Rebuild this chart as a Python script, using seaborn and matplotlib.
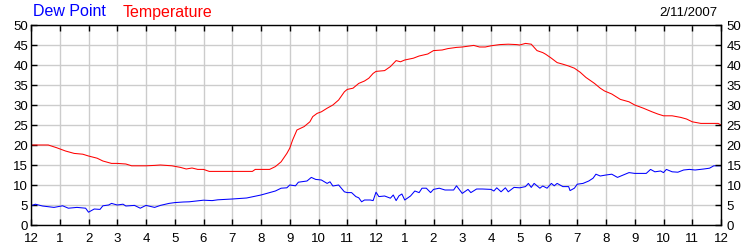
import matplotlib
matplotlib.use("Agg")
import matplotlib.pyplot as plt
import seaborn as sns
import pandas as pd

# ---- data (hours since midnight) ----
temp_hours = [0.0, 0.6, 0.9, 1.2, 1.5, 1.8, 2.0, 2.3, 2.5, 2.8, 3.0, 3.3, 3.5, 4.0,
              4.3, 4.5, 4.9, 5.2, 5.4, 5.6, 5.8, 6.0, 6.2, 6.5, 7.0, 7.5, 7.7, 7.8, 8.0,
              8.3, 8.5, 8.7, 8.9, 9.0, 9.1, 9.25, 9.5, 9.7, 9.8, 9.95, 10.1, 10.3, 10.5,
              10.7, 10.9, 11.0, 11.2, 11.4, 11.6, 11.75, 11.9, 12.0,
              12.3, 12.5, 12.7, 12.85, 13.0, 13.3, 13.5, 13.8, 14.0, 14.3, 14.5, 14.8,
              15.0, 15.4, 15.6, 15.8, 16.0,
              16.3, 16.6, 16.9, 17.0, 17.2, 17.4, 17.6, 17.8, 17.9, 18.1, 18.3, 18.5,
              18.7, 18.9, 19.1, 19.3, 19.6, 19.8, 19.95,
              20.2, 20.5, 20.8, 21.0, 21.3, 21.6, 21.8, 22.0, 22.3, 22.6, 22.8, 23.0,
              23.3, 23.6, 23.9, 24.0]
temperature = [20.0, 20.0, 19.3, 18.5, 17.9, 17.7, 17.25, 16.7, 16.0, 15.4, 15.4, 15.25, 14.8, 14.8,
               14.9, 15.0, 14.8, 14.4, 14.0, 14.25, 13.9, 13.9, 13.4, 13.4, 13.4, 13.4, 13.4, 13.9, 13.9,
               13.9, 14.6, 15.8, 17.9, 19.2, 21.25, 23.75, 24.6, 25.8, 27.1, 27.9, 28.3, 29.2, 30.0,
               31.25, 33.3, 33.9, 34.2, 35.4, 36.0, 36.7, 37.9, 38.4,
               38.6, 39.6, 41.1, 40.8, 41.25, 41.7, 42.25, 42.75, 43.6, 43.75, 44.1, 44.4,
               44.5, 44.9, 44.5, 44.5, 44.8,
               45.1, 45.2, 45.1, 45.0, 45.4, 45.2, 43.6, 43.1, 42.7, 41.7, 40.6, 40.2,
               39.75, 39.2, 38.2, 36.9, 35.4, 34.2, 33.5,
               32.75, 31.4, 30.8, 30.0, 29.2, 28.3, 27.75, 27.3, 27.3, 26.9, 26.5, 25.8,
               25.4, 25.4, 25.4, 25.0]

dew_hours = [0.0, 0.15, 0.4, 0.8, 1.1, 1.3, 1.6, 1.9, 2.0, 2.2, 2.4, 2.5, 2.7, 2.8, 3.0,
             3.2, 3.3, 3.6, 3.8, 4.0,
             4.3, 4.5, 4.8, 5.0, 5.3, 5.5, 6.0, 6.3, 6.5, 7.0, 7.5, 7.8, 8.0,
             8.2, 8.5, 8.7, 8.9, 9.0, 9.2, 9.3, 9.6, 9.75, 9.9, 10.1, 10.3, 10.4, 10.5,
             10.7, 10.9, 11.0, 11.15, 11.3, 11.4, 11.5, 11.6, 11.8, 11.9, 12.0,
             12.1, 12.3, 12.5, 12.6, 12.7, 12.8, 12.9, 13.0, 13.2, 13.35, 13.5, 13.6,
             13.75, 13.9, 14.0, 14.2, 14.4, 14.7, 14.8, 15.0, 15.2, 15.3, 15.5, 15.7, 16.0,
             16.1, 16.2, 16.35, 16.5, 16.6, 16.8, 17.0, 17.2, 17.3, 17.4, 17.5, 17.7,
             17.8, 17.95, 18.1, 18.2, 18.3, 18.5, 18.7, 18.75, 18.9, 19.0, 19.2, 19.4,
             19.55, 19.65, 19.8, 20.0,
             20.2, 20.3, 20.4, 20.6, 20.8, 21.0, 21.3, 21.4, 21.55, 21.7, 21.9, 22.0,
             22.1, 22.3, 22.5, 22.7, 22.9, 23.1, 23.4, 23.6, 23.75, 24.0]
dew_point = [4.8, 5.2, 4.75, 4.4, 4.8, 4.2, 4.4, 4.2, 3.2, 4.0, 3.9, 4.8, 5.0, 5.4, 5.0,
             5.2, 4.75, 4.9, 4.2, 4.9,
             4.4, 4.9, 5.4, 5.6, 5.75, 5.8, 6.2, 6.1, 6.3, 6.5, 6.75, 7.2, 7.5,
             7.9, 8.5, 9.2, 9.3, 10.0, 9.8, 10.7, 11.0, 11.9, 11.4, 11.25, 10.4, 10.8, 9.75,
             10.0, 8.3, 8.1, 8.1, 7.1, 6.8, 5.8, 6.25, 6.25, 6.1, 8.2,
             7.1, 7.25, 6.7, 7.5, 6.1, 7.3, 7.75, 6.25, 7.25, 8.5, 8.1, 9.2,
             9.2, 8.1, 8.9, 9.2, 8.75, 8.75, 9.8, 7.9, 8.9, 8.1, 9.0, 9.0, 8.9,
             8.5, 9.3, 8.3, 9.3, 8.3, 9.4, 9.3, 9.6, 10.4, 9.4, 10.4, 9.2,
             9.75, 9.2, 10.4, 9.8, 10.4, 9.6, 9.6, 8.6, 9.2, 10.2, 10.4, 11.0,
             11.7, 12.7, 12.25, 12.5,
             12.7, 12.3, 11.9, 12.5, 13.1, 12.9, 12.9, 12.9, 13.9, 13.3, 13.5, 13.1,
             13.9, 13.3, 13.2, 13.75, 13.9, 13.75, 14.0, 14.2, 14.8, 14.8]

tick_hours = list(range(0, 25))
tick_labels = ["12", "1", "2", "3", "4", "5", "6", "7", "8", "9", "10", "11",
               "12", "1", "2", "3", "4", "5", "6", "7", "8", "9", "10", "11", "12"]
y_ticks = [0, 5, 10, 15, 20, 25, 30, 35, 40, 45, 50]

# ---- styling ----
sns.set_theme(style="white")
plt.rcParams["font.family"] = ["Liberation Sans", "DejaVu Sans"]

fig = plt.figure(figsize=(7.5, 2.5), dpi=100)
ax = fig.add_axes([31 / 750, 25 / 250, 690 / 750, 200 / 250])

temp_df = pd.DataFrame({"hour": temp_hours, "value": temperature})
dew_df = pd.DataFrame({"hour": dew_hours, "value": dew_point})

sns.lineplot(data=temp_df, x="hour", y="value", ax=ax, color="#ff0000", linewidth=0.75)
sns.lineplot(data=dew_df, x="hour", y="value", ax=ax, color="#0000ff", linewidth=0.75)

ax.set_xlim(0, 24)
ax.set_ylim(0, 50)
ax.set_xticks(tick_hours)
ax.set_xticklabels(tick_labels)
ax.set_yticks(y_ticks)
ax.set_xlabel("")
ax.set_ylabel("")
ax.grid(True, color="#cccccc", linewidth=1.0)
ax.set_axisbelow(True)
for s in ax.spines.values():
    s.set_color("black")
    s.set_linewidth(1.0)

ax.tick_params(axis="x", direction="in", length=4, width=1, color="black",
               top=True, bottom=True, labelsize=9.5, pad=6, labelcolor="black")
ax.tick_params(axis="y", direction="in", length=4, width=1, color="black",
               left=True, right=False, labelsize=9.5, pad=2, labelcolor="black")

ax2 = ax.twinx()
ax2.set_ylim(0, 50)
ax2.set_yticks(y_ticks)
ax2.tick_params(axis="y", direction="in", length=4, width=1, color="black",
                right=True, labelsize=9.5, pad=4, labelcolor="black")
ax2.grid(False)
for s in ax2.spines.values():
    s.set_visible(False)

fig.text(33 / 750, 1 - 12 / 250, "Dew Point", color="#0000ff", fontsize=11.5,
         ha="left", va="center")
fig.text(123 / 750, 1 - 12 / 250, "Temperature", color="#ff0000", fontsize=11.5,
         ha="left", va="center")
fig.text(717 / 750, 1 - 13 / 250, "2/11/2007", color="black", fontsize=9.5,
         ha="right", va="center")

fig.savefig("out.png", dpi=100)
